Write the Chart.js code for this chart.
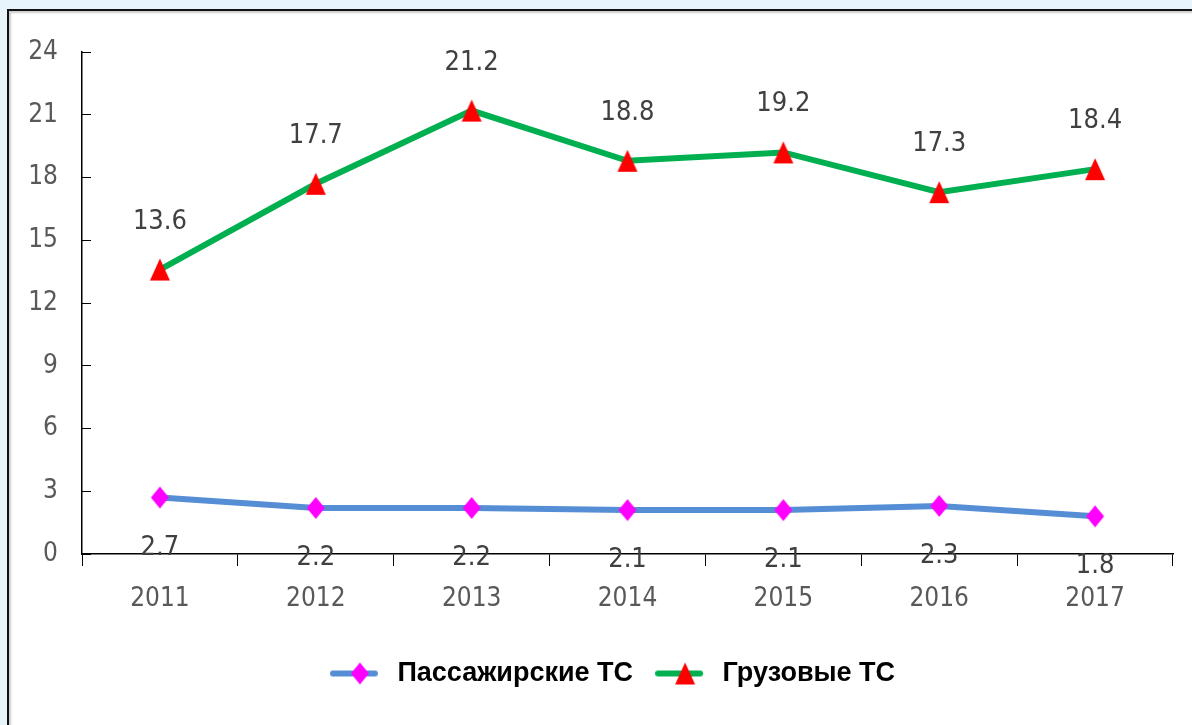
<!DOCTYPE html>
<html>
<head>
    <title>Line chart</title>
    <script src="https://cdn.jsdelivr.net/npm/chart.js@4.4.0/dist/chart.umd.min.js"></script>
    <style>
        html, body { margin: 0; padding: 0; overflow: hidden; background: #e8f4fb; }
        #frame {
            position: absolute; left: 7px; top: 9px; width: 1300px; height: 800px;
            background: #fff; border-left: 2px solid #111; border-top: 2px solid #111;
            box-shadow: inset 2px 2px 2px #ccc;
        }
        #lineChartCanvas { position: absolute; left: 0; top: 0; }
    </style>
</head>
<body>
<div id="frame"></div>
<canvas id="lineChartCanvas" width="1192" height="725"></canvas>
<script>

const years = ['2011', '2012', '2013', '2014', '2015', '2016', '2017'];
const passengerValues = [2.7, 2.2, 2.2, 2.1, 2.1, 2.3, 1.8];
const cargoValues = [13.6, 17.7, 21.2, 18.8, 19.2, 17.3, 18.4];
const seriesNames = ['Пассажирские ТС', 'Грузовые ТС'];

const narrowFont = "'Liberation Sans Narrow', 'DejaVu Sans Condensed', sans-serif";

// marker pictures: tall diamond and triangle, plus legend icons with a line
function makeMarker(shape, color, lineColor, iconWidth) {
    const c = document.createElement('canvas');
    c.width = iconWidth || 22;
    c.height = 24;
    const g = c.getContext('2d');
    const cx = lineColor ? 30 : c.width / 2;
    const cy = 12;
    if (lineColor) {
        g.strokeStyle = lineColor;
        g.lineWidth = 6;
        g.lineCap = 'round';
        g.beginPath();
        g.moveTo(3, cy);
        g.lineTo(45, cy);
        g.stroke();
    }
    g.fillStyle = color;
    g.beginPath();
    if (shape === 'diamond') {
        g.moveTo(cx, cy - 11);
        g.lineTo(cx + 9, cy);
        g.lineTo(cx, cy + 11);
        g.lineTo(cx - 9, cy);
    } else {
        g.moveTo(cx, cy - 11);
        g.lineTo(cx + 10, cy + 11);
        g.lineTo(cx - 10, cy + 11);
    }
    g.closePath();
    g.fill();
    return c;
}

const diamond = makeMarker('diamond', '#ff00ff');
const triangle = makeMarker('triangle', '#ff0000');
const diamondIcon = makeMarker('diamond', '#ff00ff', '#558ed5', 54);
const triangleIcon = makeMarker('triangle', '#ff0000', '#00b050', 54);

const valueLabels = {
    id: 'valueLabels',
    afterDatasetsDraw(chart) {
        const ctx = chart.ctx;
        ctx.save();
        ctx.font = '27px ' + narrowFont;
        ctx.fillStyle = '#404040';
        ctx.textAlign = 'center';
        ctx.textBaseline = 'middle';
        chart.data.datasets.forEach((ds, i) => {
            chart.getDatasetMeta(i).data.forEach((pt, j) => {
                ctx.fillText(ds.data[j].toFixed(1), pt.x, pt.y + ds.labelShift);
            });
        });
        ctx.restore();
    }
};

// the legend in the original sits a little right of centre
const legendShift = {
    id: 'legendShift',
    afterLayout(chart) {
        chart.legend.left += 26;
        chart.legend.right += 26;
    }
};

const ctx = document.getElementById('lineChartCanvas').getContext('2d');
const myLineChart = new Chart(ctx, {
    type: 'line',
    data: {
        labels: years,
        datasets: [{
            label: seriesNames[0],
            data: passengerValues,
            borderColor: '#558ed5',
            borderWidth: 6,
            pointStyle: diamond,
            labelShift: 50,
            clip: false,
        }, {
            label: seriesNames[1],
            data: cargoValues,
            borderColor: '#00b050',
            borderWidth: 6,
            pointStyle: triangle,
            labelShift: -48,
            clip: false,
        }],
    },
    options: {
        responsive: false,
        animation: false,
        layout: { padding: { left: 0, right: 19, top: 52, bottom: 28 } },
        scales: {
            x: {
                offset: true,
                grid: { offset: true, drawOnChartArea: false, tickLength: 12, color: '#000' },
                border: { color: '#000', width: 1.5 },
                ticks: { color: '#595959', font: { family: narrowFont, size: 26 }, padding: 18 },
                afterFit: s => { s.height = 84; },
            },
            y: {
                min: 0,
                max: 24,
                ticks: { stepSize: 3, color: '#595959', font: { family: narrowFont, size: 26 }, padding: 33 },
                grid: { drawOnChartArea: false, tickLength: -9, color: '#000' },
                border: { color: '#000', width: 1.5 },
                afterFit: s => { s.width = 82; },
            },
        },
        plugins: {
            tooltip: { enabled: false },
            legend: {
                position: 'bottom',
                labels: {
                    usePointStyle: true,
                    pointStyleWidth: 54,
                    padding: 22,
                    color: '#000',
                    font: { family: "'Liberation Sans', Arial, sans-serif", size: 27, weight: 'bold' },
                    generateLabels: chart => chart.data.datasets.map((ds, i) => ({
                        text: ds.label,
                        pointStyle: i === 0 ? diamondIcon : triangleIcon,
                        fontColor: '#000',
                        datasetIndex: i,
                    })),
                },
            },
        },
    },
    plugins: [valueLabels, legendShift],
});

</script>
</body>
</html>
